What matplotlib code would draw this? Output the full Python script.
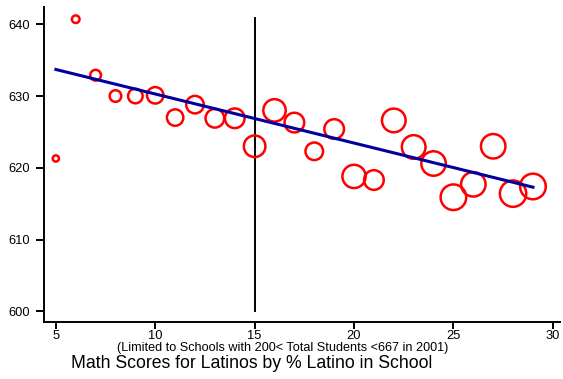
import matplotlib
matplotlib.use("Agg")
import matplotlib.pyplot as plt
import numpy as np

plt.rcParams['font.family'] = ['Liberation Sans', 'DejaVu Sans']

# percent Latino in school
pct_latino = [5, 6, 7, 8, 9, 10, 11, 12, 13, 14, 15, 16, 17, 18, 19,
              20, 21, 22, 23, 24, 25, 26, 27, 28, 29]
# mean math score of Latino students
math_score = [621.3, 640.7, 632.9, 630.0, 630.0, 630.1, 627.0, 628.8, 626.9,
              626.9, 623.0, 628.0, 626.3, 622.3, 625.4, 618.8, 618.3, 626.6,
              622.9, 620.6, 615.9, 617.7, 623.0, 616.4, 617.4]
# number of schools behind each point (marker weight)
n_schools = [2, 3, 6, 7, 11, 14, 14, 16, 18, 20, 24, 26, 20, 16, 20,
             28, 20, 29, 29, 31, 34, 31, 31, 36, 34]

# fitted line
fit_x = [5, 29]
fit_y = [633.7, 617.3]

cutoff = 15

fig = plt.figure(figsize=(5.63, 3.79), dpi=100)
ax = fig.add_axes([0.078, 0.150, 0.917, 0.8315])

ax.scatter(pct_latino, math_score, s=np.array(n_schools) * 10,
           facecolors='none', edgecolors='#ff0000', linewidths=1.8, zorder=3)
ax.plot(fit_x, fit_y, color='#0000a0', linewidth=2.2, zorder=4)
ax.plot([cutoff, cutoff], [600, 640.8], color='black', linewidth=1.4, zorder=2)

ax.set_xlim(4.4, 30.37)
ax.set_ylim(598.5, 642.4)
ax.set_xticks([5, 10, 15, 20, 25, 30])
ax.set_yticks([600, 610, 620, 630, 640])

for side in ['top', 'right']:
    ax.spines[side].set_visible(False)
for side in ['left', 'bottom']:
    ax.spines[side].set_linewidth(1.4)
ax.tick_params(axis='both', direction='out', width=1.4, labelsize=9.3)
ax.tick_params(axis='x', length=5, pad=0.8)
ax.tick_params(axis='y', length=5.8, pad=4.3)

fig.text(283 / 563, 1 - 348 / 379,
         '(Limited to Schools with 200< Total Students <667 in 2001)',
         ha='center', va='center', fontsize=9.1)
fig.text(252 / 563, 1 - 364 / 379,
         'Math Scores for Latinos by % Latino in School',
         ha='center', va='center', fontsize=12.7)

fig.savefig('out.png', dpi=100)
